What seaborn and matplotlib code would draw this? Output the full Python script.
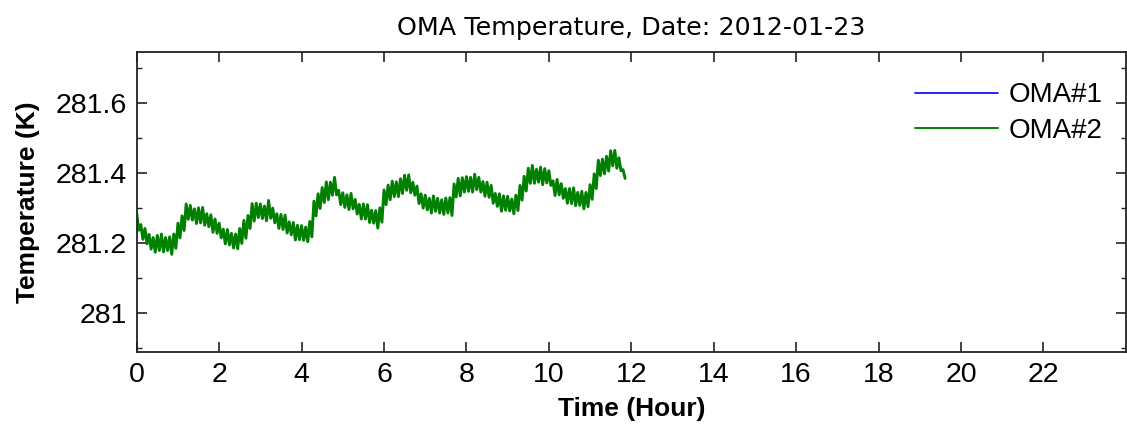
import numpy as np
import pandas as pd
import matplotlib
matplotlib.use("Agg")
import matplotlib.pyplot as plt
from matplotlib.lines import Line2D
from matplotlib.ticker import MultipleLocator
import seaborn as sns

# OMA temperature log for 2012-01-23, one reading every 0.05 h
SAMPLE_STEP_H = 0.05
series_names = ["OMA#1", "OMA#2"]
series_colors = ["#0000ff", "#008000"]

temp_oma1 = []  # no readings from sensor #1 on this day

temp_oma2 = [
    281.285, 281.237, 281.253, 281.211, 281.242, 281.198, 281.225, 281.183, 281.216, 281.174,
    281.222, 281.179, 281.226, 281.175, 281.216, 281.179, 281.218, 281.168, 281.226, 281.185,
    281.257, 281.215, 281.278, 281.236, 281.312, 281.268, 281.308, 281.266, 281.298, 281.256,
    281.301, 281.258, 281.302, 281.251, 281.284, 281.247, 281.281, 281.231, 281.269, 281.228,
    281.257, 281.215, 281.240, 281.198, 281.239, 281.195, 281.228, 281.186, 281.226, 281.184,
    281.242, 281.199, 281.265, 281.214, 281.279, 281.242, 281.313, 281.263, 281.314, 281.273,
    281.312, 281.270, 281.306, 281.264, 281.322, 281.271, 281.300, 281.258, 281.284, 281.242,
    281.282, 281.239, 281.280, 281.229, 281.261, 281.224, 281.259, 281.209, 281.251, 281.210,
    281.250, 281.208, 281.246, 281.204, 281.262, 281.218, 281.320, 281.278, 281.341, 281.299,
    281.359, 281.316, 281.375, 281.324, 281.374, 281.337, 281.388, 281.338, 281.351, 281.310,
    281.344, 281.302, 281.338, 281.296, 281.342, 281.298, 281.325, 281.283, 281.311, 281.269,
    281.312, 281.269, 281.310, 281.259, 281.294, 281.257, 281.293, 281.243, 281.301, 281.260,
    281.352, 281.310, 281.366, 281.324, 281.377, 281.333, 281.375, 281.333, 281.384, 281.342,
    281.394, 281.351, 281.395, 281.344, 281.374, 281.337, 281.363, 281.313, 281.341, 281.300,
    281.337, 281.295, 281.328, 281.286, 281.335, 281.291, 281.328, 281.286, 281.324, 281.282,
    281.329, 281.286, 281.330, 281.279, 281.369, 281.332, 281.385, 281.335, 281.387, 281.346,
    281.390, 281.348, 281.388, 281.346, 281.397, 281.353, 281.388, 281.346, 281.376, 281.334,
    281.374, 281.331, 281.365, 281.314, 281.342, 281.305, 281.341, 281.291, 281.335, 281.294,
    281.334, 281.292, 281.326, 281.284, 281.337, 281.293, 281.365, 281.323, 281.391, 281.349,
    281.414, 281.371, 281.422, 281.371, 281.411, 281.374, 281.417, 281.367, 281.413, 281.372,
    281.407, 281.365, 281.378, 281.336, 281.382, 281.338, 281.370, 281.328, 281.356, 281.314,
    281.356, 281.313, 281.358, 281.307, 281.345, 281.308, 281.348, 281.298, 281.345, 281.304,
    281.367, 281.325, 281.398, 281.356, 281.437, 281.393, 281.440, 281.398, 281.448, 281.406,
    281.464, 281.421, 281.465, 281.414, 281.444, 281.407, 281.410, 281.385,
]

x_ticks = list(range(0, 24, 2))
y_ticks = [281.0, 281.2, 281.4, 281.6]
y_tick_labels = ["281", "281.2", "281.4", "281.6"]

hours2 = np.arange(len(temp_oma2)) * SAMPLE_STEP_H
df = pd.DataFrame({"hour": hours2, "temp": temp_oma2})

sns.set_theme(style="ticks")
plt.rcParams["font.family"] = ["Liberation Sans", "DejaVu Sans"]
plt.rcParams["text.color"] = "black"
plt.rcParams["axes.labelcolor"] = "black"

fig = plt.figure(figsize=(11.27, 4.28), dpi=100)
ax = fig.add_axes([0.1213, 0.1776, 0.8777, 0.7016])

if temp_oma1:
    sns.lineplot(x=np.arange(len(temp_oma1)) * SAMPLE_STEP_H, y=temp_oma1, ax=ax,
                 color=series_colors[0], linewidth=1.2, estimator=None, sort=False)
sns.lineplot(data=df, x="hour", y="temp", ax=ax, color=series_colors[1],
             linewidth=2.1, estimator=None, sort=False)

ax.set_xlim(0, 24)
ax.set_ylim(280.889, 281.747)
ax.set_xticks(x_ticks)
ax.set_xticklabels([str(t) for t in x_ticks])
ax.set_yticks(y_ticks)
ax.set_yticklabels(y_tick_labels)
ax.yaxis.set_minor_locator(MultipleLocator(0.1))

for side in ["top", "right", "bottom", "left"]:
    ax.spines[side].set_visible(True)
    ax.spines[side].set_linewidth(1.3)
    ax.spines[side].set_color("#222222")

ax.tick_params(axis="both", which="major", direction="in", length=7.5, width=1.1,
               top=True, right=True, labelsize=20.5, colors="#111111",
               labelcolor="black")
ax.tick_params(axis="y", which="minor", direction="in", length=3.6, width=1.0,
               left=True, right=True)
ax.tick_params(axis="x", which="major", pad=7)
ax.tick_params(axis="y", which="major", pad=7)

ax.set_xlabel("Time (Hour)", fontsize=19, fontweight="bold", labelpad=7)
ax.set_ylabel("Temperature (K)", fontsize=19, fontweight="bold", labelpad=11)
ax.set_title("OMA Temperature, Date: 2012-01-23", fontsize=18.3, pad=12,
             family=["DejaVu Sans"])

handles = [Line2D([], [], color=series_colors[0], linewidth=1.2),
           Line2D([], [], color=series_colors[1], linewidth=1.4)]
ax.legend(handles, series_names, loc="upper right", bbox_to_anchor=(0.976, 0.898),
          frameon=False, fontsize=20, handlelength=3.0, handletextpad=0.36,
          labelspacing=0.34, borderaxespad=0.0, borderpad=0.0)

fig.savefig("out.png", dpi=100)
